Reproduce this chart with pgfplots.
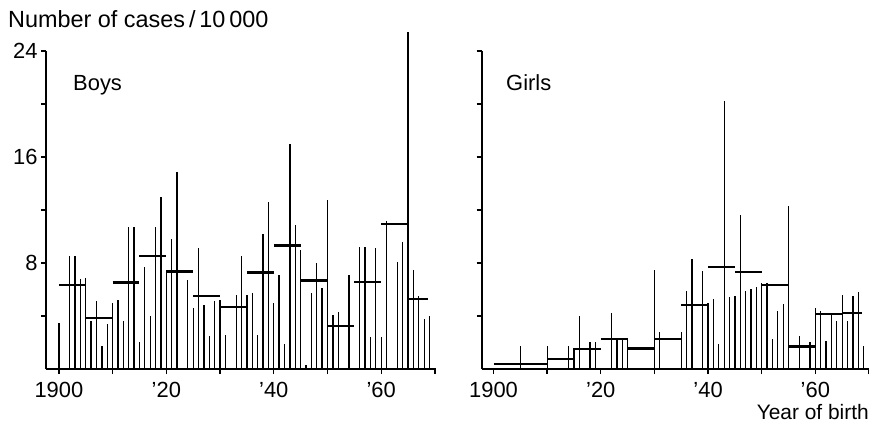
\documentclass[border=0pt]{standalone}
\usepackage{fontspec}
\setmainfont{Liberation Sans}
\usepackage{pgfplots}
\usepackage{pgfplotstable}
\pgfplotsset{compat=1.18}

% yearly rates (spikes)
\pgfplotstableread{
year val
1900 3.5
1901 0
1902 8.5
1903 8.5
1904 6.8
1905 6.9
1906 3.6
1907 5.1
1908 1.7
1909 3.4
1910 5.0
1911 5.2
1912 3.6
1913 10.7
1914 10.7
1915 2.0
1916 7.7
1917 4.0
1918 10.7
1919 13.0
1920 7.3
1921 9.8
1922 14.9
1923 0
1924 6.7
1925 4.6
1926 9.1
1927 4.8
1928 2.5
1929 5.1
1930 5.2
1931 2.6
1932 0
1933 5.6
1934 8.5
1935 5.6
1936 5.7
1937 2.6
1938 10.2
1939 12.6
1940 5.0
1941 7.1
1942 1.9
1943 17.0
1944 10.9
1945 9.0
1946 0.3
1947 5.7
1948 8.0
1949 6.1
1950 12.75
1951 4.1
1952 4.3
1953 0
1954 7.1
1955 0
1956 9.2
1957 9.2
1958 2.4
1959 9.1
1960 2.4
1961 11.2
1962 0
1963 8.1
1964 9.6
1965 25.4
1966 7.5
1967 5.5
1968 3.8
1969 4.0
}\boys

\pgfplotstableread{
year val
1900 0
1901 0
1902 0
1903 0
1904 0
1905 1.75
1906 0
1907 0
1908 0
1909 0
1910 1.75
1911 0
1912 0
1913 0
1914 1.7
1915 1.6
1916 4.0
1917 0
1918 2.0
1919 2.0
1920 0
1921 0
1922 4.26
1923 2.26
1924 2.26
1925 2.26
1926 0
1927 0
1928 0
1929 0
1930 7.5
1931 2.76
1932 0
1933 0
1934 0
1935 2.76
1936 5.9
1937 8.27
1938 0
1939 7.4
1940 5.0
1941 5.27
1942 1.9
1943 20.25
1944 5.4
1945 5.5
1946 11.65
1947 5.9
1948 6.05
1949 6.2
1950 6.5
1951 6.5
1952 2.26
1953 4.4
1954 4.9
1955 12.3
1956 0
1957 2.5
1958 0
1959 2.0
1960 4.6
1961 4.4
1962 2.1
1963 4.1
1964 3.6
1965 5.6
1966 3.6
1967 5.5
1968 5.8
1969 1.75
}\girls

\pgfplotsset{
  panel/.style={
    scale only axis, height=318bp,
    ymin=0, ymax=24,
    axis lines*=left,
    axis line style={line width=1.9pt},
    clip=false,
    tick align=outside,
    major tick length=5bp,
    tick style={line width=1.4pt, black},
    xtick={1900,1910,...,1970},
    xticklabels={1900,,'20,,'40,,'60,},
    ytick={4,8,...,24},
    tick label style={font=\fontsize{22}{25}\selectfont},
    xticklabel style={yshift=-5bp},
    unbounded coords=jump,
  },
  spike/.style={ycomb, no marks, black, line width=1.3pt},
  mean/.style={no marks, black, line width=2.3pt},
}

\begin{document}
\begin{tikzpicture}
\useasboundingbox (0,0) rectangle (869bp,424bp);

\begin{axis}[panel, at={(46bp,55bp)}, anchor=south west,
  width=390bp, xmin=1897.6, xmax=1970.2,
  yticklabels={,8,,16,,24}]
  \addplot[spike] table[x=year, y=val] {\boys};
  \addplot[mean] coordinates {
    (1900,6.36) (1905,6.36) (1905,nan)
    (1905,3.85) (1910,3.85) (1910,nan)
    (1910,6.53) (1915,6.53) (1915,nan)
    (1915,8.54) (1920,8.54) (1920,nan)
    (1920,7.36) (1925,7.36) (1925,nan)
    (1925,5.53) (1930,5.53) (1930,nan)
    (1930,4.7) (1935,4.7) (1935,nan)
    (1935,7.29) (1940,7.29) (1940,nan)
    (1940,9.32) (1945,9.32) (1945,nan)
    (1945,6.68) (1950,6.68) (1950,nan)
    (1950,3.22) (1955,3.22) (1955,nan)
    (1955,6.58) (1960,6.58) (1960,nan)
    (1960,10.95) (1965,10.95) (1965,nan)
    (1965,5.3) (1968.7,5.3)
  };
\end{axis}

\begin{axis}[panel, at={(481.7bp,55bp)}, anchor=south west,
  width=387.3bp, xmin=1897.8, xmax=1970.0,
  yticklabels={}]
  \addplot[spike] table[x=year, y=val] {\girls};
  \addplot[mean] coordinates {
    (1900,0.38) (1910,0.38) (1910,nan)
    (1910,0.75) (1915,0.75) (1915,nan)
    (1915,1.5) (1920,1.5) (1920,nan)
    (1920,2.26) (1925,2.26) (1925,nan)
    (1925,1.55) (1930,1.55) (1930,nan)
    (1930,2.26) (1935,2.26) (1935,nan)
    (1935,4.84) (1940,4.84) (1940,nan)
    (1940,7.72) (1945,7.72) (1945,nan)
    (1945,7.32) (1950,7.32) (1950,nan)
    (1950,6.34) (1955,6.34) (1955,nan)
    (1955,1.7) (1960,1.7) (1960,nan)
    (1960,4.14) (1965,4.14) (1965,nan)
    (1965,4.2) (1968.7,4.2)
  };
\end{axis}

\node[anchor=base west, inner sep=0pt, font=\fontsize{23.5}{27}\selectfont]
  at (8bp,396bp) {Number of cases\,/\,10\,000};
\node[anchor=base west, inner sep=0pt, font=\fontsize{22}{25}\selectfont]
  at (73bp,333bp) {Boys};
\node[anchor=base west, inner sep=0pt, font=\fontsize{22}{25}\selectfont]
  at (506bp,333bp) {Girls};
\node[anchor=base east, inner sep=0pt, font=\fontsize{21}{24}\selectfont]
  at (869bp,5bp) {Year of birth};
\end{tikzpicture}
\end{document}
